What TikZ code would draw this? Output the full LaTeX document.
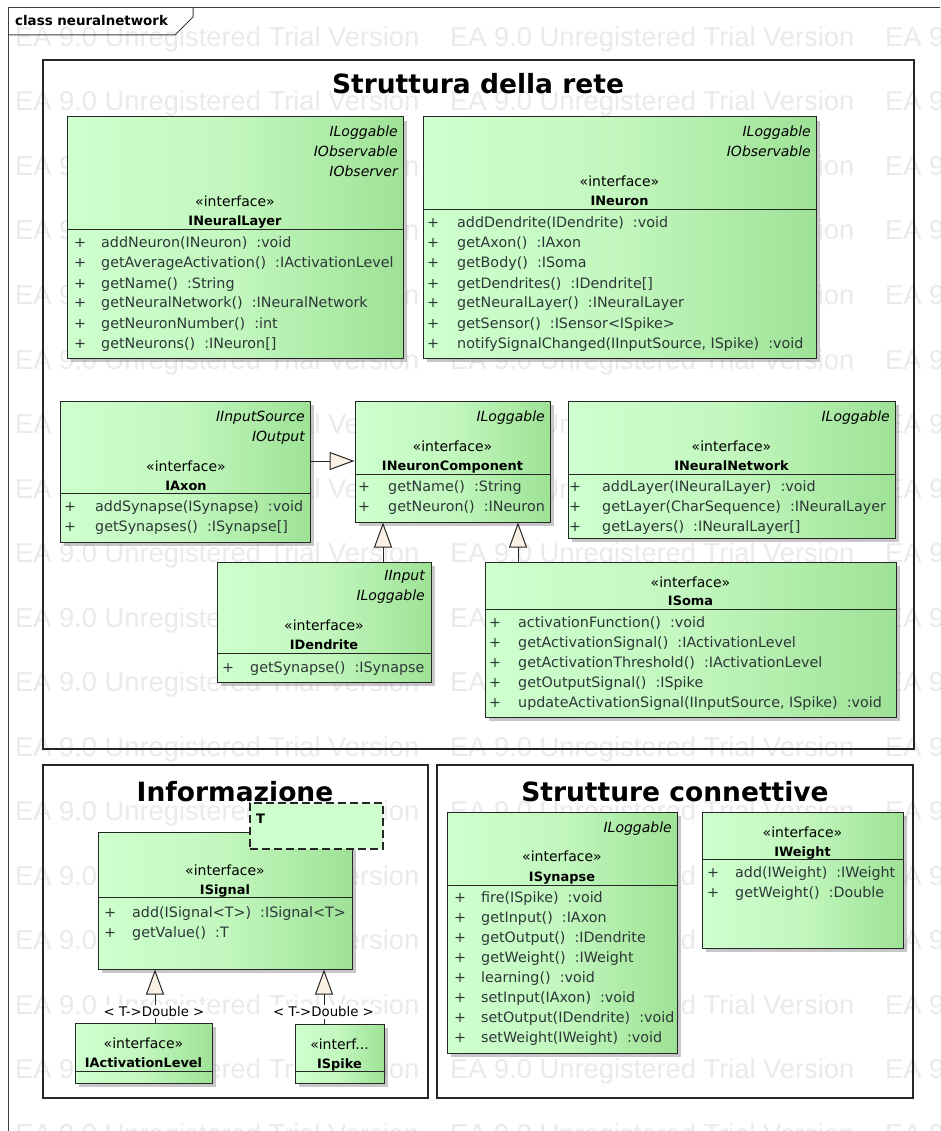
\documentclass[tikz,border=0pt]{standalone}
\usepackage{fontspec}
\setmainfont{DejaVu Sans}
\newfontfamily\wmfont{Liberation Sans}
\usetikzlibrary{arrows.meta,shadows,fit}

\definecolor{boxlight}{RGB}{206,255,206}
\definecolor{boxmid}{RGB}{194,247,190}
\definecolor{boxdark}{RGB}{158,226,150}
\definecolor{tipfill}{RGB}{251,240,228}
\definecolor{optext}{RGB}{45,55,55}
\definecolor{wmgray}{RGB}{234,234,234}

% list of operations of a class: prefix, x of "+", x of text, centre y of first row, rows
\newcommand\oplist[5]{%
  \foreach \opline [count=\opi] in {#5}{%
    \node[opplus] (#1-p\opi) at (#2,{#4+5+20*(\opi-1)}) {+};
    \node[optxt] (#1-m\opi) at (#3,{#4+5+20*(\opi-1)}) {\opline};
  }}

\begin{document}
\begin{tikzpicture}[x=1pt,y=-1pt,
  wm/.style={anchor=base west, inner sep=0pt, text=wmgray,
    font=\wmfont\fontsize{27.3}{30}\selectfont},
  frameline/.style={draw=black!75, line width=1pt},
  pkg/.style={draw=black!85, line width=1.1pt, inner sep=0pt},
  ptitle/.style={anchor=base, inner sep=0pt, font=\bfseries\fontsize{26.5}{30}\selectfont},
  tabtxt/.style={anchor=base west, inner sep=0pt, font=\bfseries\fontsize{13.4}{15}\selectfont},
  classbox/.style={draw=black!85, line width=1pt, inner sep=0pt,
    left color=boxlight, right color=boxdark, middle color=boxmid,
    drop shadow={shadow xshift=4pt, shadow yshift=-4pt, fill=black!40, opacity=.55}},
  divider/.style={draw=black!85, line width=1pt},
  iface/.style={anchor=base east, inner sep=0pt, font=\itshape\fontsize{14}{16}\selectfont},
  stereo/.style={anchor=base, inner sep=0pt, font=\fontsize{14}{16}\selectfont},
  cname/.style={anchor=base, inner sep=0pt, font=\bfseries\fontsize{12.9}{15}\selectfont},
  opplus/.style={anchor=base, inner sep=0pt, text=optext, font=\fontsize{14.3}{16}\selectfont},
  optxt/.style={anchor=base west, inner sep=0pt, text=optext, font=\fontsize{14.3}{16}\selectfont},
  tparam/.style={draw=black!85, line width=1.2pt, dash pattern=on 8pt off 4pt,
    fill=boxlight, inner sep=0pt},
  tlabel/.style={anchor=base west, inner sep=0pt, font=\bfseries\fontsize{13}{15}\selectfont},
  gen/.style={draw=black!85, line width=1pt,
    -{Triangle[length=25pt, width=18pt, fill=tipfill]}},
  bindlabel/.style={fill=white, inner sep=1.5pt, font=\fontsize{13.3}{15}\selectfont},
]
\clip (0,0) rectangle (940,1131);
\fill[white] (0,0) rectangle (940,1131);

% trial watermark
\foreach \k in {0,...,17}
  \foreach \xx in {15,450,885}
    \node[wm] (wm-\k-\xx) at (\xx,{46.5+64.5*\k}) {EA 9.0 Unregistered Trial Version};

% diagram frame and its tab
\draw[frameline] (8,1150) -- (8,8) -- (960,8);
\draw[frameline] (8,35) -- (175,35) -- (193,17) -- (193,8);
\node[tabtxt] (frame-title) at (15,26) {class neuralnetwork};

% packages
\node[pkg, fit={(43,60)(914,749)}] (pkgrete) {};
\node[ptitle] (pkgrete-title) at (478,94) {Struttura della rete};
\node[pkg, fit={(43,765)(428,1098)}] (pkginfo) {};
\node[ptitle] (pkginfo-title) at (235,801) {Informazione};
\node[pkg, fit={(437,765)(913,1098)}] (pkgconn) {};
\node[ptitle] (pkgconn-title) at (675,801) {Strutture connettive};

% INeuralLayer
\node[classbox, fit={(67,117)(403,358)}] (INeuralLayer) {};
\draw[divider] (67,230) -- (403,230);
\node[iface] (INeuralLayer-i1) at (398,137) {ILoggable};
\node[iface] (INeuralLayer-i2) at (398,157) {IObservable};
\node[iface] (INeuralLayer-i3) at (398,177) {IObserver};
\node[stereo] (INeuralLayer-s) at (235,207) {«interface»};
\node[cname] (INeuralLayer-n) at (235,226) {INeuralLayer};
\oplist{INeuralLayer}{80}{101}{243}{addNeuron(INeuron)~~:void, getAverageActivation()~~:IActivationLevel, getName()~~:String, getNeuralNetwork()~~:INeuralNetwork, getNeuronNumber()~~:int, getNeurons()~~:INeuron[]}

% INeuron
\node[classbox, fit={(423,117)(816,358)}] (INeuron) {};
\draw[divider] (423,210) -- (816,210);
\node[iface] (INeuron-i1) at (811,137) {ILoggable};
\node[iface] (INeuron-i2) at (811,157) {IObservable};
\node[stereo] (INeuron-s) at (619.5,187) {«interface»};
\node[cname] (INeuron-n) at (619.5,206) {INeuron};
\oplist{INeuron}{433}{457}{223}{addDendrite(IDendrite)~~:void, getAxon()~~:IAxon, getBody()~~:ISoma, getDendrites()~~:IDendrite[], getNeuralLayer()~~:INeuralLayer, getSensor()~~:ISensor<ISpike>, {notifySignalChanged(IInputSource, ISpike)~~:void}}

% IAxon
\node[classbox, fit={(60,401)(310,542)}] (IAxon) {};
\draw[divider] (60,493) -- (310,493);
\node[iface] (IAxon-i1) at (305,421) {IInputSource};
\node[iface] (IAxon-i2) at (305,441) {IOutput};
\node[stereo] (IAxon-s) at (186,471) {«interface»};
\node[cname] (IAxon-n) at (186,490) {IAxon};
\oplist{IAxon}{70}{95}{506}{addSynapse(ISynapse)~~:void, getSynapses()~~:ISynapse[]}

% INeuronComponent
\node[classbox, fit={(355,401)(550,522)}] (INeuronComponent) {};
\draw[divider] (355,474) -- (550,474);
\node[iface] (INeuronComponent-i1) at (545,421) {ILoggable};
\node[stereo] (INeuronComponent-s) at (452.5,451) {«interface»};
\node[cname] (INeuronComponent-n) at (452.5,470) {INeuronComponent};
\oplist{INeuronComponent}{364}{388}{486}{getName()~~:String, getNeuron()~~:INeuron}

% INeuralNetwork
\node[classbox, fit={(568,401)(895,538)}] (INeuralNetwork) {};
\draw[divider] (568,474) -- (895,474);
\node[iface] (INeuralNetwork-i1) at (890,421) {ILoggable};
\node[stereo] (INeuralNetwork-s) at (731.5,451) {«interface»};
\node[cname] (INeuralNetwork-n) at (731.5,470) {INeuralNetwork};
\oplist{INeuralNetwork}{575}{602}{486}{addLayer(INeuralLayer)~~:void, getLayer(CharSequence)~~:INeuralLayer, getLayers()~~:INeuralLayer[]}

% IDendrite
\node[classbox, fit={(217,562)(431,682)}] (IDendrite) {};
\draw[divider] (217,653) -- (431,653);
\node[iface] (IDendrite-i1) at (425,580) {IInput};
\node[iface] (IDendrite-i2) at (425,600) {ILoggable};
\node[stereo] (IDendrite-s) at (324,630) {«interface»};
\node[cname] (IDendrite-n) at (324,649) {IDendrite};
\oplist{IDendrite}{228}{250}{667}{getSynapse()~~:ISynapse}

% ISoma
\node[classbox, fit={(485,562)(896,717)}] (ISoma) {};
\draw[divider] (485,609) -- (896,609);
\node[stereo] (ISoma-s) at (690.5,587) {«interface»};
\node[cname] (ISoma-n) at (690.5,605) {ISoma};
\oplist{ISoma}{495}{518}{622}{activationFunction()~~:void, getActivationSignal()~~:IActivationLevel, getActivationThreshold()~~:IActivationLevel, getOutputSignal()~~:ISpike, {updateActivationSignal(IInputSource, ISpike)~~:void}}

% ISignal with its template parameter
\node[classbox, fit={(98,832)(352,969)}] (ISignal) {};
\draw[divider] (98,897) -- (352,897);
\node[stereo] (ISignal-s) at (225,875) {«interface»};
\node[cname] (ISignal-n) at (225,894) {ISignal};
\oplist{ISignal}{110}{132}{912}{add(ISignal<T>)~~:ISignal<T>, getValue()~~:T}
\node[tparam, fit={(250,803)(383,849)}] (ISignal-T) {};
\node[tlabel] (ISignal-Tl) at (256,823) {T};

% IActivationLevel
\node[classbox, fit={(75,1023)(212,1083)}] (IActivationLevel) {};
\draw[divider] (75,1071) -- (212,1071);
\node[stereo] (IActivationLevel-s) at (143.5,1048) {«interface»};
\node[cname] (IActivationLevel-n) at (143.5,1067) {IActivationLevel};

% ISpike
\node[classbox, fit={(295,1024)(384,1083)}] (ISpike) {};
\draw[divider] (295,1071) -- (384,1071);
\node[stereo] (ISpike-s) at (339.5,1049) {«interf...};
\node[cname] (ISpike-n) at (339.5,1068) {ISpike};

% ISynapse
\node[classbox, fit={(447,812)(677,1053)}] (ISynapse) {};
\draw[divider] (447,885) -- (677,885);
\node[iface] (ISynapse-i1) at (672,832) {ILoggable};
\node[stereo] (ISynapse-s) at (562,861) {«interface»};
\node[cname] (ISynapse-n) at (562,881) {ISynapse};
\oplist{ISynapse}{460}{481}{897}{fire(ISpike)~~:void, getInput()~~:IAxon, getOutput()~~:IDendrite, getWeight()~~:IWeight, learning()~~:void, setInput(IAxon)~~:void, setOutput(IDendrite)~~:void, setWeight(IWeight)~~:void}

% IWeight
\node[classbox, fit={(702,812)(903,948)}] (IWeight) {};
\draw[divider] (702,859) -- (903,859);
\node[stereo] (IWeight-s) at (802.5,837) {«interface»};
\node[cname] (IWeight-n) at (802.5,856) {IWeight};
\oplist{IWeight}{713}{735}{872}{add(IWeight)~~:IWeight, getWeight()~~:Double}

% generalizations
\draw[gen] (IAxon.east |- 0,461) -- (INeuronComponent.west |- 0,461);
\draw[gen] (IDendrite.north -| 383,0) -- (INeuronComponent.south -| 383,0);
\draw[gen] (ISoma.north -| 518,0) -- (INeuronComponent.south -| 518,0);
\draw[gen] (IActivationLevel.north -| 155,0) -- (ISignal.south -| 155,0);
\draw[gen] (ISpike.north -| 324,0) -- (ISignal.south -| 324,0);
\node[bindlabel] (IActivationLevel-bind) at (154,1011.5) {< T->Double >};
\node[bindlabel] (ISpike-bind) at (323.5,1012) {< T->Double >};
\end{tikzpicture}
\end{document}
